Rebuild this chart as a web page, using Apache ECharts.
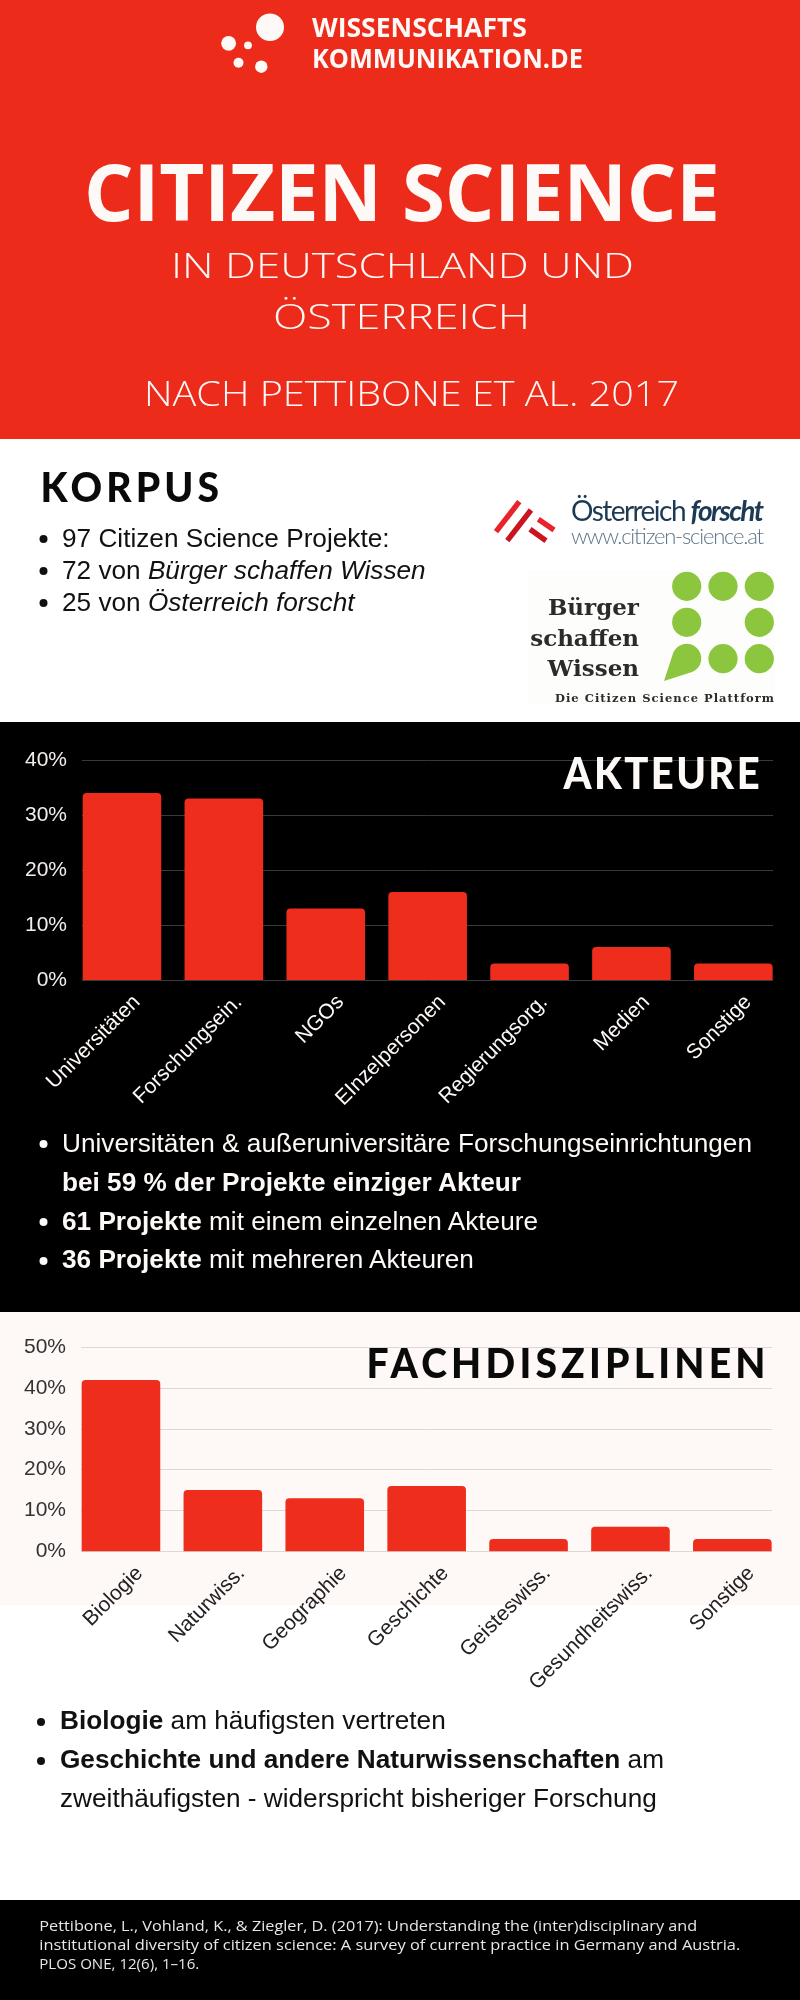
<!DOCTYPE html>
<html lang="de">
<head>
<meta charset="utf-8">
<title>Citizen Science in Deutschland und Österreich</title>
<script src="https://cdn.jsdelivr.net/npm/echarts@6/dist/echarts.min.js"></script>
<style>
  html, body { margin: 0; padding: 0; background: #fff; }
  #page { position: relative; width: 800px; height: 2000px; overflow: hidden; background: #fff; }
  .panel { position: absolute; left: 0; width: 800px; }
  #chart, #overlay { position: absolute; left: 0; top: 0; width: 800px; height: 2000px; }
  #overlay { pointer-events: none; }
  .body { font-family: "Liberation Sans", Arial, sans-serif; font-size: 26.2px; }
  .head { font-family: "Open Sans", sans-serif; font-weight: 700; }
  .sect { font-family: "Lato", sans-serif; font-weight: 900; }
  .sub { font-family: "Open Sans", sans-serif; font-weight: 300; font-size: 35px; fill: #fdf9f7; }
  .foot { font-family: "Open Sans", sans-serif; font-weight: 400; font-size: 15px; fill: #e9e6e4; }
  .slab { font-family: "DejaVu Serif", serif; font-weight: 700; fill: #2b2b2b; }
</style>
</head>
<body>
<div id="page">
  <div class="panel" style="top:0;height:439px;background:#ec2b1b"></div>
  <div class="panel" style="top:722px;height:590px;background:#000"></div>
  <div class="panel" style="top:1312px;height:293px;background:#fef9f7"></div>
  <div class="panel" style="top:1900px;height:100px;background:#000"></div>
  <div id="chart"></div>
  <svg id="overlay" viewBox="0 0 800 2000" xmlns="http://www.w3.org/2000/svg">
    <!-- Header logo -->
    <g fill="#fdf9f7">
      <ellipse cx="270" cy="27.3" rx="14" ry="13.7"/>
      <circle cx="228.6" cy="43.3" r="7.4"/>
      <circle cx="248" cy="45.3" r="3.9"/>
      <circle cx="238.5" cy="62.7" r="5"/>
      <circle cx="261.3" cy="66.7" r="6.2"/>
    </g>
    <text class="head" x="312" y="36.7" font-size="27" font-weight="600" fill="#fdf9f7" textLength="215" lengthAdjust="spacingAndGlyphs">WISSENSCHAFTS</text>
    <text class="head" x="312" y="68" font-size="27" font-weight="600" fill="#fdf9f7" textLength="271" lengthAdjust="spacingAndGlyphs">KOMMUNIKATION.DE</text>
    <text class="head" x="84" y="221" font-size="78" fill="#fdf9f7" textLength="636" lengthAdjust="spacing">CITIZEN SCIENCE</text>
    <text class="sub" x="171" y="278" textLength="463" lengthAdjust="spacingAndGlyphs">IN DEUTSCHLAND UND</text>
    <text class="sub" x="273" y="329" textLength="257" lengthAdjust="spacingAndGlyphs">ÖSTERREICH</text>
    <text class="sub" x="144" y="406" textLength="535" lengthAdjust="spacingAndGlyphs">NACH PETTIBONE ET AL. 2017</text>

    <!-- Korpus -->
    <text class="sect" transform="translate(40.5 502) scale(0.93 1)" font-size="42" fill="#0a0a0a" textLength="192" lengthAdjust="spacing">KORPUS</text>
    <g class="body" fill="#111">
      <circle cx="43.5" cy="539" r="4"/><circle cx="43.5" cy="571" r="4"/><circle cx="43.5" cy="603" r="4"/>
      <text x="62" y="547">97 Citizen Science Projekte:</text>
      <text x="62" y="579">72 von <tspan font-style="italic">Bürger schaffen Wissen</tspan></text>
      <text x="62" y="611">25 von <tspan font-style="italic">Österreich forscht</tspan></text>
    </g>

    <!-- Österreich forscht logo -->
    <g stroke-width="5.4" fill="none">
      <line x1="519.3" y1="501.7" x2="496" y2="531.7" stroke="#e8232b"/>
      <line x1="531" y1="510" x2="507.3" y2="540.7" stroke="#c8161e"/>
      <line x1="538.3" y1="519.3" x2="554" y2="530" stroke="#e8232b"/>
      <line x1="530" y1="529.3" x2="546" y2="540.7" stroke="#c8161e"/>
    </g>
    <text x="571" y="521" font-family="Lato, sans-serif" font-size="28" fill="#1d3a54" textLength="193" lengthAdjust="spacing">Österreich <tspan font-weight="700" font-style="italic">forscht</tspan></text>
    <text x="571" y="544" font-family="Lato, sans-serif" font-weight="300" font-size="22" fill="#5f7486" textLength="193" lengthAdjust="spacing">www.citizen-science.at</text>

    <!-- Bürger schaffen Wissen logo -->
    <rect x="528" y="570" width="247" height="135" fill="#fdfdfb"/>
    <g fill="#8cc63f">
      <circle cx="686.7" cy="586.3" r="14.6"/><circle cx="723" cy="586.3" r="14.6"/><circle cx="759.3" cy="586.3" r="14.6"/>
      <circle cx="686.7" cy="622.3" r="14.6"/><circle cx="759.3" cy="622.3" r="14.6"/>
      <circle cx="723" cy="658.7" r="14.6"/><circle cx="759.3" cy="658.7" r="14.6"/>
      <path d="M664 681 L672.5 655 A14.6 14.6 0 1 1 692 672 Z"/>
    </g>
    <text class="slab" x="639" y="615" font-size="23" text-anchor="end">Bürger</text>
    <text class="slab" x="639" y="646" font-size="23" text-anchor="end">schaffen</text>
    <text class="slab" x="639" y="676" font-size="23" text-anchor="end">Wissen</text>
    <text class="slab" x="555" y="702" font-size="11.5" textLength="219" lengthAdjust="spacing">Die Citizen Science Plattform</text>

    <!-- Section titles -->
    <text class="sect" transform="translate(563.5 789) scale(0.93 1)" font-size="43" fill="#fdf9f7" textLength="211" lengthAdjust="spacing">AKTEURE</text>
    <text class="sect" transform="translate(366.5 1378) scale(0.93 1)" font-size="42" fill="#0a0a0a" textLength="429" lengthAdjust="spacing">FACHDISZIPLINEN</text>

    <!-- Akteure bullets -->
    <g class="body" fill="#fdf9f7">
      <circle cx="43.5" cy="1144" r="4"/><circle cx="43.5" cy="1222" r="4"/><circle cx="43.5" cy="1261" r="4"/>
      <text x="62" y="1151.7">Universitäten &amp; außeruniversitäre Forschungseinrichtungen</text>
      <text x="62" y="1190.7" font-weight="700">bei 59 % der Projekte einziger Akteur</text>
      <text x="62" y="1229.7"><tspan font-weight="700">61 Projekte</tspan> mit einem einzelnen Akteure</text>
      <text x="62" y="1268.3"><tspan font-weight="700">36 Projekte</tspan> mit mehreren Akteuren</text>
    </g>

    <!-- Fachdisziplinen bullets -->
    <g class="body" fill="#111">
      <circle cx="41" cy="1722" r="4"/><circle cx="41" cy="1761" r="4"/>
      <text x="60" y="1729.3"><tspan font-weight="700">Biologie</tspan> am häufigsten vertreten</text>
      <text x="60" y="1768.3"><tspan font-weight="700">Geschichte und andere Naturwissenschaften</tspan> am</text>
      <text x="60" y="1807.3">zweithäufigsten - widerspricht bisheriger Forschung</text>
    </g>

    <!-- Footer -->
    <text class="foot" x="39.3" y="1930.7" textLength="658" lengthAdjust="spacingAndGlyphs">Pettibone, L., Vohland, K., &amp; Ziegler, D. (2017): Understanding the (inter)disciplinary and</text>
    <text class="foot" x="39.3" y="1949.5" textLength="701" lengthAdjust="spacingAndGlyphs">institutional diversity of citizen science: A survey of current practice in Germany and Austria.</text>
    <text class="foot" x="39.3" y="1968.7" textLength="160" lengthAdjust="spacingAndGlyphs">PLOS ONE, 12(6), 1–16.</text>
  </svg>
</div>
<script>
const akteureCategories = ["Universitäten", "Forschungsein.", "NGOs", "EInzelpersonen", "Regierungsorg.", "Medien", "Sonstige"];
const akteureValues = [34, 33, 13, 16, 3, 6, 3];
const akteureMax = 40;
const fachCategories = ["Biologie", "Naturwiss.", "Geographie", "Geschichte", "Geisteswiss.", "Gesundheitswiss.", "Sonstige"];
const fachValues = [42, 15, 13, 16, 3, 6, 3];
const fachMax = 50;
const barColor = "#ee2d1d";

function catAxis(gridIndex, data, color, margin, lineHeight) {
  return {
    type: "category", gridIndex, data,
    axisLine: { show: false }, axisTick: { show: false },
    axisLabel: {
      rotate: 45, interval: 0, margin, color,
      fontFamily: "Liberation Sans", fontSize: 21,
      verticalAlign: "top", lineHeight
    }
  };
}
function hiddenVal(gridIndex, max) {
  return { type: "value", gridIndex, min: 0, max, interval: 10, show: false, splitLine: { show: false } };
}
function scaleAxis(gridIndex, max, labelColor, lineColor) {
  return {
    type: "value", gridIndex, min: 0, max, interval: 10,
    axisLine: { show: false }, axisTick: { show: false },
    axisLabel: { formatter: "{value}%", margin: 15, color: labelColor, fontFamily: "Liberation Sans", fontSize: 21, padding: [4, 0, 0, 0] },
    splitLine: { show: true, showMinLine: true, showMaxLine: true, lineStyle: { color: lineColor, width: 1 } }
  };
}
function bars(idx, data) {
  return {
    type: "bar", xAxisIndex: idx, yAxisIndex: idx, data, barWidth: 78.6, silent: true,
    itemStyle: { color: barColor, borderRadius: [4, 4, 0, 0] }
  };
}

const chart = echarts.init(document.getElementById("chart"), null, { renderer: "canvas", width: 800, height: 2000 });
chart.setOption({
  animation: false,
  backgroundColor: "transparent",
  grid: [
    { left: 71, top: 760, width: 713.3, height: 220 },
    { left: 82, top: 760, width: 691, height: 220 },
    { left: 70, top: 1347.3, width: 713.3, height: 204 },
    { left: 81, top: 1347.3, width: 691, height: 204 }
  ],
  xAxis: [
    catAxis(0, akteureCategories, "#fdf9f7", 4, 42),
    { type: "value", gridIndex: 1, show: false, splitLine: { show: false } },
    catAxis(2, fachCategories, "#222", 0, 53),
    { type: "value", gridIndex: 3, show: false, splitLine: { show: false } }
  ],
  yAxis: [
    hiddenVal(0, akteureMax),
    scaleAxis(1, akteureMax, "#f2eeec", "#3a3a3a"),
    hiddenVal(2, fachMax),
    scaleAxis(3, fachMax, "#333", "#dcd8d6")
  ],
  series: [bars(0, akteureValues), bars(2, fachValues)]
});
</script>
</body>
</html>
